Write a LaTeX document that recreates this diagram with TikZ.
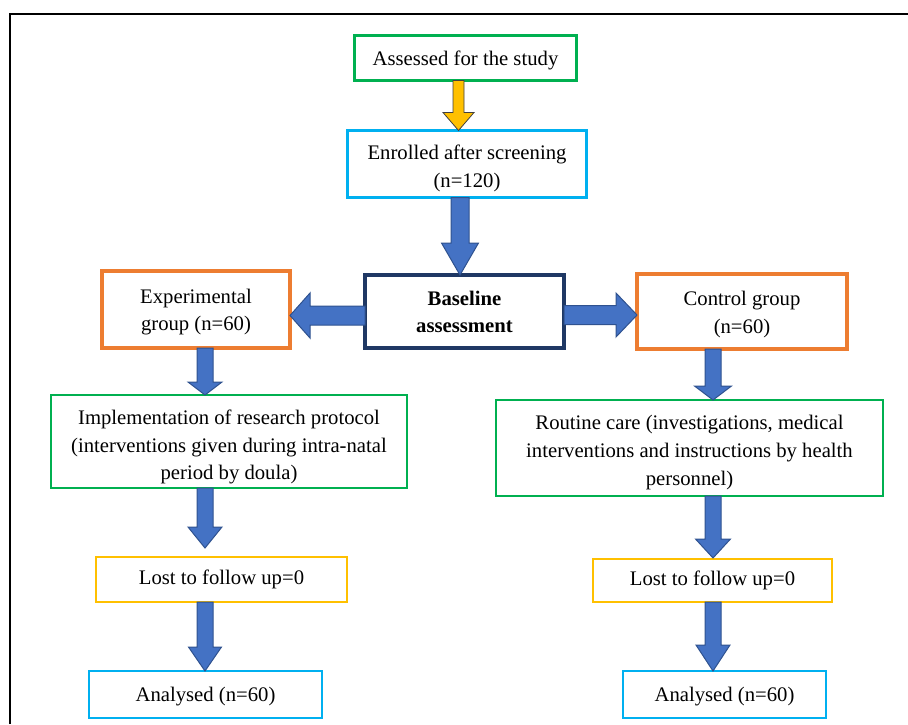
\documentclass[tikz,border=0pt]{standalone}
\usepackage{fontspec}
\setmainfont{Liberation Serif}
\usetikzlibrary{calc}
\definecolor{cgreen}{HTML}{00B050}
\definecolor{cblue}{HTML}{00B0F0}
\definecolor{cnavy}{HTML}{1F3864}
\definecolor{corange}{HTML}{ED7D31}
\definecolor{cyellow}{HTML}{FFC000}
\definecolor{afill}{HTML}{4472C4}
\definecolor{aline}{HTML}{2F528F}
% lowered centred text block: shift(pt), lines
\newcommand\dn[2]{\raisebox{-#1pt}[\height][\depth]{\begin{tabular}{@{}c@{}}#2\end{tabular}}}
% vertical block arrow: x(px), from, to, shaft half, head half, head length, style
\newcommand\varrow[7]{%
 \path[#7] let \p1=(#2), \p2=(#3), \p3=(#1,0) in
 ({\x3-#4pt},\y1) -- ({\x3+#4pt},\y1) -- ({\x3+#4pt},{\y2+#6pt}) -- ({\x3+#5pt},{\y2+#6pt})
 -- (\x3,\y2) -- ({\x3-#5pt},{\y2+#6pt}) -- ({\x3-#4pt},{\y2+#6pt}) -- cycle;}
% horizontal block arrow: y(px), from, to, shaft half, head half, signed head length, style
\newcommand\harrow[7]{%
 \path[#7] let \p1=(#2), \p2=(#3), \p3=(0,#1) in
 (\x1,{\y3+#4pt}) -- ({\x2+(#6pt)},{\y3+#4pt}) -- ({\x2+(#6pt)},{\y3+#5pt}) -- (\x2,\y3)
 -- ({\x2+(#6pt)},{\y3-#5pt}) -- ({\x2+(#6pt)},{\y3-#4pt}) -- (\x1,{\y3-#4pt}) -- cycle;}
\tikzset{
 box/.style={draw, inner sep=0pt, outer sep=0pt, align=center,
   font=\fontsize{20.7}{27.6}\selectfont},
 blockarrow/.style={fill=afill, draw=aline, line width=1pt},
 yarrow/.style={fill=cyellow, draw=black!75, line width=0.8pt},
 frame/.style={line width=2.3pt, black}
}
\begin{document}
\begin{tikzpicture}[x=1pt,y=-1pt]
\useasboundingbox (0,0) rectangle (908,724);
\draw[frame] (10,724) -- (10,14) -- (908,14);

\node[box, draw=cgreen, line width=3pt, minimum width=222, minimum height=45] (assess) at (465.5,58) {\dn{2}{Assessed for the study}};
\node[box, draw=cblue, line width=3pt, minimum width=239, minimum height=67] (enrol) at (467,164) {\dn{4}{Enrolled after screening\\(n=120)}};
\node[box, draw=cnavy, line width=4pt, minimum width=199, minimum height=73, font=\fontsize{20.7}{27.6}\selectfont\bfseries] (base) at (464.5,311.5) {\dn{2}{Baseline\\assessment}};
\node[box, draw=corange, line width=4.5pt, minimum width=188, minimum height=77] (exp) at (196,309.5) {\dn{2}{Experimental\\group (n=60)}};
\node[box, draw=corange, line width=4.5pt, minimum width=210, minimum height=75] (ctrl) at (742,311.5) {\dn{2.5}{Control group\\(n=60)}};
\node[box, draw=cgreen, line width=2pt, minimum width=356, minimum height=93] (impl) at (229,441.5) {\dn{5}{Implementation of research protocol\\(interventions given during intra-natal\\period by doula)}};
\node[box, draw=cgreen, line width=2pt, minimum width=387, minimum height=96] (rout) at (689.5,448) {\dn{4}{Routine care (investigations, medical\\interventions and instructions by health\\personnel)}};
\node[box, draw=cyellow, line width=2pt, minimum width=251, minimum height=45] (lostL) at (221.5,579.5) {Lost to follow up=0};
\node[box, draw=cyellow, line width=2pt, minimum width=239, minimum height=43] (lostR) at (712.5,580.5) {Lost to follow up=0};
\node[box, draw=cblue, line width=2pt, minimum width=233, minimum height=47] (anaL) at (205.5,694.5) {\dn{1}{Analysed (n=60)}};
\node[box, draw=cblue, line width=2pt, minimum width=203, minimum height=47] (anaR) at (724.5,694.5) {\dn{1}{Analysed (n=60)}};

\coordinate (lostLtop) at ($(lostL.north)+(0,-9)$);
\coordinate (lostRtop) at ($(lostR.north)+(0,-1)$);

\varrow{458.5}{assess.south}{enrol.north}{5.5}{15.5}{18}{yarrow}
\varrow{460}{enrol.south}{base.north}{9}{18.5}{32}{blockarrow}
\harrow{315.5}{base.west}{exp.east}{9.5}{22.5}{20}{blockarrow}
\harrow{315}{base.east}{ctrl.west}{9.5}{22}{-21}{blockarrow}
\varrow{205}{exp.south}{impl.north}{8}{17}{13}{blockarrow}
\varrow{205}{impl.south}{lostLtop}{8}{17}{21}{blockarrow}
\varrow{205}{lostL.south}{anaL.north}{8}{16.5}{24}{blockarrow}
\varrow{713}{ctrl.south}{rout.north}{8}{18.5}{14}{blockarrow}
\varrow{713}{rout.south}{lostRtop}{8}{17.5}{19}{blockarrow}
\varrow{713}{lostR.south}{anaR.north}{8}{17}{26}{blockarrow}
\end{tikzpicture}
\end{document}
